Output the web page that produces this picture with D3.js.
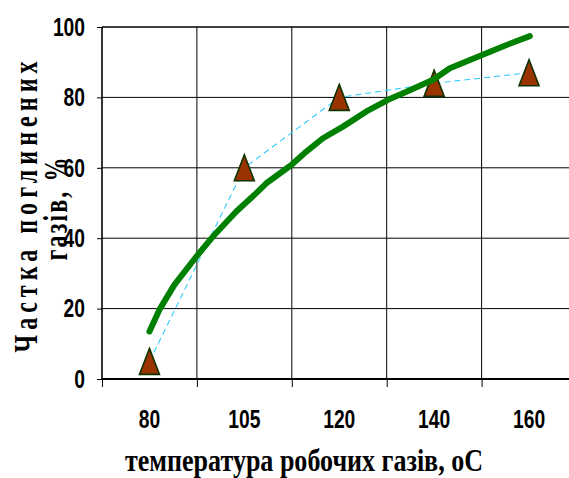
<!DOCTYPE html>
<html>
<head>
<meta charset="utf-8">
<script src="https://cdn.jsdelivr.net/npm/d3@7"></script>
<style>
  html, body { margin: 0; padding: 0; background: #fff; }
  svg { display: block; }
</style>
</head>
<body>
<svg id="chart" width="569" height="478"></svg>
<script>
// ---- data ----
const categories = ["80", "105", "120", "140", "160"];
const measured = [5, 60, 80, 84, 87];
// green curve: position in category units (0 = "80") and value
const curvePos = [0, 0.105, 0.264, 0.51, 0.686, 0.915, 1.125, 1.231, 1.495, 1.653, 1.828, 2.039, 2.286, 2.514, 2.708, 2.989, 3.165, 3.499, 3.763, 4.008];
const curveVal = [13.5, 19.7, 26.8, 35.3, 41, 47.6, 52.8, 55.6, 60.8, 64.6, 68.4, 71.7, 76, 79.3, 81.6, 85, 88.3, 92, 94.9, 97.4];
const yTicks = [0, 20, 40, 60, 80, 100];
const xTitle = "температура робочих газів, оС";
const yTitle1 = "Частка поглинених";
const yTitle2 = "газів, %";

(function () {
// ---- layout ----
const W = 569, H = 478;
const pLeft = 102, pRight = 576.5, pTop = 27, pBottom = 379;

const svg = d3.select("#chart");

const band = d3.scaleBand().domain(categories).range([pLeft, pRight]).padding(0);
const xi = d3.scaleLinear().domain([-0.5, categories.length - 0.5]).range([pLeft, pRight]);
const y = d3.scaleLinear().domain([0, 100]).range([pBottom, pTop]);

// gridlines
const grid = svg.append("g");
grid.selectAll("line.h").data(yTicks.filter(v => v > 0)).join("line")
  .attr("x1", pLeft).attr("x2", W)
  .attr("y1", d => y(d)).attr("y2", d => y(d))
  .attr("stroke", "#000").attr("stroke-width", d => d === 100 ? 1.6 : 1);
grid.selectAll("line.v").data(categories.slice(1)).join("line")
  .attr("x1", d => band(d)).attr("x2", d => band(d))
  .attr("y1", pTop).attr("y2", pBottom)
  .attr("stroke", "#000").attr("stroke-width", 1);

// axes lines
svg.append("line").attr("x1", pLeft).attr("x2", pLeft).attr("y1", pTop).attr("y2", pBottom)
  .attr("stroke", "#000").attr("stroke-width", 1.6);
svg.append("line").attr("x1", pLeft).attr("x2", W).attr("y1", pBottom).attr("y2", pBottom)
  .attr("stroke", "#000").attr("stroke-width", 2);

// y axis
const yAxis = svg.append("g").attr("transform", `translate(${pLeft},0)`)
  .call(d3.axisLeft(y).tickValues(yTicks).tickSize(5).tickPadding(12).tickFormat(d3.format("d")));
yAxis.select(".domain").remove();
yAxis.selectAll(".tick line").attr("stroke", "#000");
yAxis.selectAll(".tick text")
  .attr("font-family", "'Liberation Sans Narrow', 'Arial Narrow', 'Liberation Sans', sans-serif")
  .attr("font-weight", "bold").attr("font-size", 26).attr("fill", "#000")
  .attr("textLength", function() { return this.textContent.length * 10.7; })
  .attr("lengthAdjust", "spacingAndGlyphs");

// x axis: labels at centers
const xAxis = svg.append("g").attr("transform", `translate(0,${pBottom})`)
  .call(d3.axisBottom(band).tickSize(0).tickPadding(31));
xAxis.select(".domain").remove();
xAxis.selectAll(".tick text")
  .attr("font-family", "'Liberation Sans Narrow', 'Arial Narrow', 'Liberation Sans', sans-serif")
  .attr("font-weight", "bold").attr("font-size", 26).attr("fill", "#000")
  .attr("textLength", function() { return this.textContent.length * 10.7; })
  .attr("lengthAdjust", "spacingAndGlyphs");
// x axis: ticks at category boundaries
const xTicks = svg.append("g").attr("transform", `translate(0,${pBottom})`)
  .call(d3.axisBottom(xi).tickValues(categories.map((c, i) => i - 0.5)).tickSize(8).tickFormat(""));
xTicks.select(".domain").remove();
xTicks.selectAll(".tick line").attr("stroke", "#000");

// dashed connecting line
const dashLine = d3.line().x((d, i) => xi(i)).y(d => y(d));
svg.append("path").datum(measured)
  .attr("d", dashLine)
  .attr("fill", "none").attr("stroke", "#33ccff").attr("stroke-width", 1.1)
  .attr("stroke-dasharray", "6,4");

// triangles
svg.append("g").selectAll("path").data(measured).join("path")
  .attr("transform", (d, i) => `translate(${xi(i)},${y(d)})`)
  .attr("d", "M0,-13L10,13L-10,13Z")
  .attr("fill", "#993300").attr("stroke", "#0f3300").attr("stroke-width", 1.6)
  .attr("stroke-linejoin", "miter");

// green curve
const curve = curvePos.map((p, i) => ({ p, v: curveVal[i] }));
svg.append("path").datum(curve)
  .attr("d", d3.line().x(d => xi(d.p)).y(d => y(d.v)).curve(d3.curveLinear))
  .attr("fill", "none").attr("stroke", "#008000").attr("stroke-width", 6)
  .attr("stroke-linecap", "round").attr("stroke-linejoin", "round");

// x title
svg.append("text")
  .attr("x", 304).attr("y", 471)
  .attr("text-anchor", "middle")
  .attr("font-family", "'Liberation Serif', 'Times New Roman', serif")
  .attr("font-weight", "bold").attr("font-size", 32).attr("fill", "#000")
  .attr("textLength", 358).attr("lengthAdjust", "spacingAndGlyphs")
  .text(xTitle);

// y title (two lines, rotated, glyphs stretched across the baseline)
svg.append("text")
  .attr("transform", "translate(37,207) rotate(-90) scale(1,1.4)")
  .attr("text-anchor", "middle")
  .attr("font-family", "'Liberation Serif', 'Times New Roman', serif")
  .attr("font-weight", "bold").attr("font-size", 24).attr("fill", "#000")
  .attr("textLength", 291).attr("lengthAdjust", "spacing")
  .text(yTitle1);
svg.append("text")
  .attr("transform", "translate(67,209) rotate(-90) scale(1,1.4)")
  .attr("text-anchor", "middle")
  .attr("font-family", "'Liberation Serif', 'Times New Roman', serif")
  .attr("font-weight", "bold").attr("font-size", 24).attr("fill", "#000")
  .attr("textLength", 103).attr("lengthAdjust", "spacing")
  .text(yTitle2);
})();
</script>
</body>
</html>
